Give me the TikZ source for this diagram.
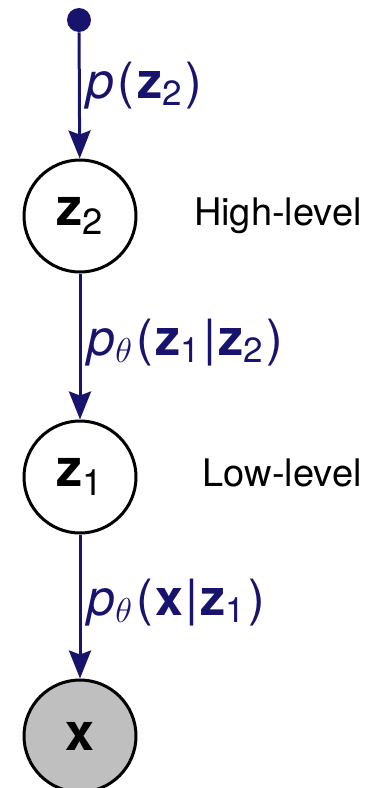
\documentclass[tikz,border=0pt]{standalone}
\usepackage{fontspec}
\setmainfont{TeX Gyre Heros}
\usepackage{tikz}
\usetikzlibrary{arrows.meta, positioning}
\definecolor{navy}{RGB}{24,20,110}
\newcommand{\lpar}{\kern1.5pt(\kern1.5pt}
\newcommand{\rpar}{\kern1.5pt)}
\newcommand{\given}{\kern1pt|\kern1pt}

\begin{document}
\begin{tikzpicture}[
    x=0.5pt, y=-0.5pt,
    node distance=72pt,
    latent/.style={circle, draw=black, line width=1.5pt, fill=white, minimum size=56pt, inner sep=0pt, font=\fontsize{26}{28}\selectfont},
    observed/.style={latent, fill=black!25},
    prior/.style={circle, fill=navy, minimum size=12pt, inner sep=0pt},
    arrow/.style={-{Stealth[length=14pt, width=11pt, inset=2pt]}, line width=1.5pt, draw=navy},
    dist/.style={right, text=navy, font=\fontsize{25}{28}\selectfont, inner sep=3pt},
    level/.style={left, font=\fontsize{19}{22}\selectfont, inner sep=0pt},
]
\useasboundingbox (0,0) rectangle (366,788);

% Generative chain
\node[prior] (root) at (79,20) {};
\node[latent] (z2) at (80,216) {\textbf{z}\textsubscript{2}};
\node[latent, below=73pt of z2] (z1) {\textbf{z}\textsubscript{1}};
\node[observed, below=72pt of z1] (x) {\textbf{x}};

% Arrows
\draw[arrow] (root) -- node[dist, pos=0.42] {\textit{p}\lpar\textbf{z}\textsubscript{2}\rpar} (z2);
\draw[arrow] (z2) -- node[dist, pos=0.47] {\textit{p}\textsubscript{$\theta$}\lpar\textbf{z}\textsubscript{1}\given\textbf{z}\textsubscript{2}\rpar} (z1);
\draw[arrow] (z1) -- node[dist, pos=0.47] {\textit{p}\textsubscript{$\theta$}\lpar\textbf{x}\given\textbf{z}\textsubscript{1}\rpar} (x);

% Levels
\node[level] (high) at (362,216) {High-level};
\node[level] (low) at (362,473) {Low-level};

\end{tikzpicture}
\end{document}
